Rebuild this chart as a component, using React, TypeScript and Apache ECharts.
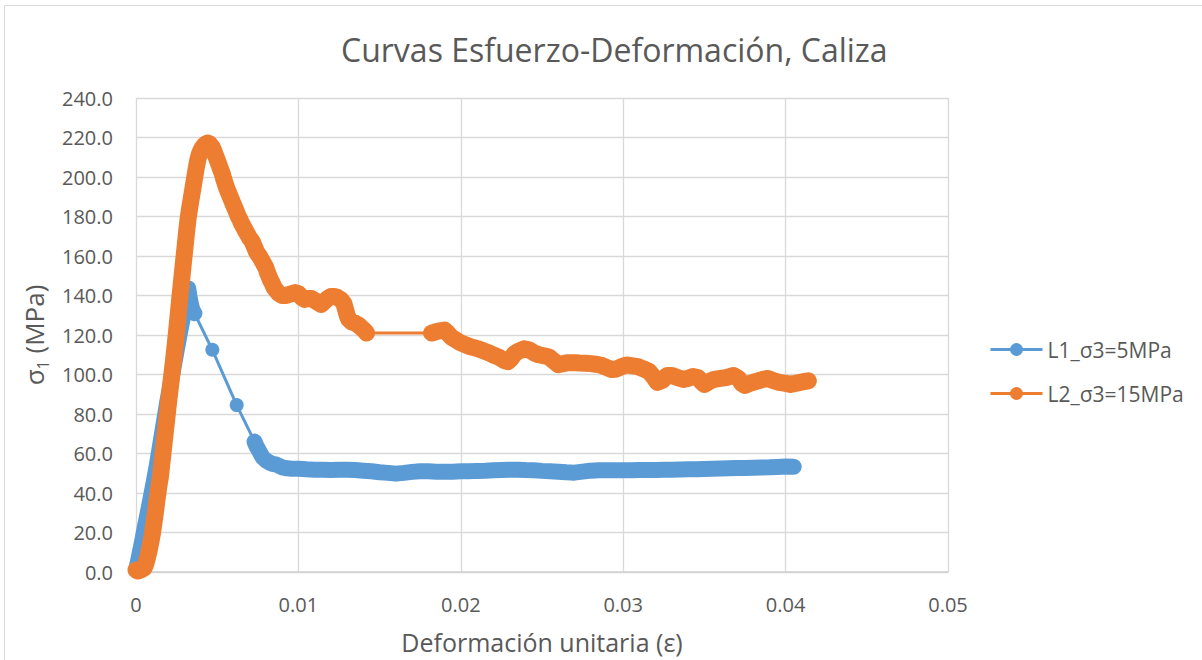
import React, { useEffect, useRef } from "react";
import * as echarts from "echarts";

const TITLE = "Curvas Esfuerzo-Deformación, Caliza";
const X_NAME = "Deformación unitaria (ε)";
const SERIES_NAMES = ["L1_σ3=5MPa", "L2_σ3=15MPa"];
const COLORS = ["#5B9BD5", "#ED7D31"];

// L1 (σ3 = 5 MPa): strain and stress
const epsL1 = [
  0, 0.0001, 0.0002, 0.0003, 0.0004, 0.0005, 0.0007, 0.0009, 0.0011, 0.0013,
  0.0015, 0.0017, 0.0019, 0.0021, 0.0023, 0.0025, 0.0027, 0.0029, 0.0031, 0.00322,
  0.0033, 0.0034, 0.0035, 0.0036, 0.0047, 0.0062, 0.0073, 0.0074, 0.0075, 0.0076,
  0.0077, 0.0078, 0.008, 0.0082, 0.0084, 0.0086, 0.0088, 0.009, 0.0093, 0.0096,
  0.01, 0.0105, 0.011, 0.0115, 0.012, 0.0125, 0.013, 0.0135, 0.014, 0.0145,
  0.015, 0.0155, 0.016, 0.0165, 0.017, 0.0175, 0.018, 0.0185, 0.019, 0.0195,
  0.02, 0.0205, 0.021, 0.0215, 0.022, 0.0225, 0.023, 0.0235, 0.024, 0.0245,
  0.025, 0.0255, 0.026, 0.0265, 0.027, 0.0275, 0.028, 0.0285, 0.029, 0.0295,
  0.03, 0.0305, 0.031, 0.0315, 0.032, 0.0325, 0.033, 0.0335, 0.034, 0.0345,
  0.035, 0.0355, 0.036, 0.0365, 0.037, 0.0375, 0.038, 0.0385, 0.039, 0.0395,
  0.04, 0.0405,
];
const sigL1 = [
  1, 4.5, 8.5, 12.5, 16.5, 21, 29, 37.5, 46, 55,
  65, 75, 85, 94, 103, 112, 121, 129.5, 138.5, 143.5,
  139, 135, 132, 131, 112.5, 84.5, 66, 64, 62.5, 61,
  59.5, 58, 56.5, 55.5, 54.8, 54.5, 53.8, 53, 52.5, 52.3,
  52.3, 52, 51.8, 51.8, 51.7, 51.8, 51.8, 51.6, 51.3, 51,
  50.5, 50.2, 49.8, 50.2, 50.7, 51, 51, 50.8, 50.8, 50.8,
  51, 51, 51.2, 51.3, 51.5, 51.7, 51.8, 51.8, 51.6, 51.5,
  51.2, 51, 50.8, 50.5, 50.3, 50.8, 51.3, 51.5, 51.5, 51.5,
  51.5, 51.5, 51.6, 51.6, 51.7, 51.8, 51.8, 51.9, 52, 52,
  52.2, 52.3, 52.4, 52.5, 52.6, 52.7, 52.8, 52.9, 53, 53.2,
  53.4, 53.3,
];

// L2 (σ3 = 15 MPa): strain and stress
const epsL2 = [
  0, 0.0001, 0.0002, 0.0003, 0.0004, 0.0005, 0.0006, 0.0007, 0.0008, 0.0009,
  0.001, 0.0011, 0.0012, 0.0013, 0.0014, 0.0015, 0.0016, 0.0017, 0.0018, 0.0019,
  0.002, 0.0021, 0.0022, 0.0023, 0.0024, 0.0025, 0.0026, 0.0027, 0.0028, 0.0029,
  0.003, 0.0031, 0.0032, 0.0033, 0.0034, 0.0035, 0.0036, 0.0037, 0.0038, 0.0039,
  0.004, 0.0041, 0.0042, 0.0043, 0.0044, 0.0045, 0.0046, 0.0047, 0.0048, 0.0051,
  0.0052, 0.0053, 0.0054, 0.0055, 0.0056, 0.0057, 0.0058, 0.0059, 0.006, 0.0061,
  0.0062, 0.0063, 0.0064, 0.0065, 0.0066, 0.0067, 0.0068, 0.0069, 0.007, 0.0071,
  0.0072, 0.0073, 0.0074, 0.0075, 0.0076, 0.0077, 0.0078, 0.0079, 0.008, 0.0081,
  0.0082, 0.0083, 0.0084, 0.0085, 0.0086, 0.0087, 0.0088, 0.009, 0.0092, 0.0094,
  0.0096, 0.0098, 0.01, 0.0102, 0.0104, 0.0106, 0.0108, 0.011, 0.0112, 0.0114,
  0.0116, 0.0118, 0.012, 0.0122, 0.0124, 0.0126, 0.0128, 0.0129, 0.013, 0.0131,
  0.0133, 0.0135, 0.0137, 0.0139, 0.0141, 0.0142, 0.0182, 0.0186, 0.019, 0.0192,
  0.0194, 0.0196, 0.0198, 0.02, 0.0203, 0.0206, 0.021, 0.0214, 0.0218, 0.0221,
  0.0224, 0.0227, 0.0229, 0.0231, 0.0233, 0.0236, 0.0239, 0.0242, 0.0245, 0.0248,
  0.0251, 0.0254, 0.0257, 0.026, 0.0263, 0.0266, 0.027, 0.0273, 0.0277, 0.028,
  0.0283, 0.0286, 0.029, 0.0293, 0.0296, 0.0299, 0.0302, 0.0305, 0.0309, 0.0312,
  0.0316, 0.0319, 0.0321, 0.0324, 0.0327, 0.033, 0.0333, 0.0337, 0.034, 0.0343,
  0.0346, 0.0348, 0.035, 0.0353, 0.0356, 0.036, 0.0364, 0.0368, 0.0371, 0.0373,
  0.0375, 0.0378, 0.0382, 0.0386, 0.0389, 0.0392, 0.0396, 0.04, 0.0403, 0.0406,
  0.0409, 0.0412, 0.0414,
];
const sigL2 = [
  1, 0.5, 0.8, 1, 1.5, 2, 4, 7, 10.5, 14.5,
  19, 24.5, 30.5, 37, 43, 48, 55.5, 63, 70.5, 78,
  85.5, 92.5, 99.5, 106.5, 114, 122, 130.5, 139, 147, 155,
  163, 171, 178.5, 184, 189, 194, 199, 204, 208.5, 211.5,
  213.5, 215, 216, 216.8, 217.2, 217, 216, 215, 213, 206.5,
  204, 202, 199, 196.5, 194, 192, 190, 188, 186, 184,
  182, 180, 178.5, 176.5, 175, 173.5, 172, 170.5, 169, 168,
  166.5, 164.5, 162.5, 161, 160, 158.5, 157, 155.5, 154, 151.5,
  149.5, 147.5, 146, 144, 143, 142, 141, 140, 140, 140.5,
  141, 141.5, 141, 139, 138, 138.5, 138.5, 137.5, 136.5, 135.5,
  137, 138.5, 139.5, 139.5, 139, 138, 136, 133, 130, 128,
  126.5, 126, 125, 123.5, 122, 121, 121, 122, 122.5, 121,
  119, 118, 117, 116, 115, 114, 113.2, 112, 110.7, 109.5,
  108.5, 107, 106.5, 108, 110.5, 112, 113, 112.5, 111, 110,
  109.5, 109, 107, 105, 105.5, 106, 106, 105.8, 105.7, 105.5,
  105.2, 104.8, 103.5, 102.5, 102.8, 104, 104.8, 104.5, 104, 103,
  101.5, 98.5, 96, 97, 99.5, 99.5, 98.5, 97.5, 98, 99,
  98.5, 96.5, 95, 96.5, 97.5, 98, 98.5, 99.5, 98, 95.5,
  94.5, 95.5, 96.5, 97.5, 98, 97, 96, 95.5, 95, 95.5,
  96, 96.5, 96.8,
];

const X_MIN = 0;
const X_MAX = 0.05;
const X_STEP = 0.01;
const Y_MIN = 0;
const Y_MAX = 240;
const Y_STEP = 20;

const FONT = "'Open Sans', 'Noto Sans', sans-serif";
const TEXT = "#595959";

// Dense runs of measured points (drawn as a continuous thick band in the original)
function denseRuns(eps: number[], sig: number[]) {
  const out: any[] = [];
  for (let i = 0; i < eps.length; i++) {
    if (i > 0) {
      const dx = eps[i] - eps[i - 1];
      const dy = Math.abs(sig[i] - sig[i - 1]);
      if (dx > 0.0007 || dy > 12) out.push([(eps[i] + eps[i - 1]) / 2, "-"]);
    }
    out.push([eps[i], sig[i]]);
  }
  return out;
}

export default function App() {
  const ref = useRef<HTMLDivElement>(null);

  useEffect(() => {
    document.body.style.margin = "0";
    if (!ref.current) return;
    const chart = echarts.init(ref.current, undefined, { renderer: "svg" });
    const l1 = epsL1.map((e, i) => [e, sigL1[i]]);
    const l2 = epsL2.map((e, i) => [e, sigL2[i]]);
    const mkSeries = (name: string, data: any[], color: string, z: number) => ({
      name,
      type: "line",
      data,
      z,
      symbol: "circle",
      symbolSize: 14,
      showAllSymbol: true,
      color,
      itemStyle: { color },
      lineStyle: { color, width: 3 },
      emphasis: { disabled: true },
    });
    const mkBand = (name: string, data: any[], color: string, z: number, w: number) => ({
      name,
      type: "line",
      data,
      z,
      symbol: "none",
      silent: true,
      connectNulls: false,
      lineStyle: { color, width: w, cap: "round", join: "round" },
      emphasis: { disabled: true },
    });
    chart.setOption({
      animation: false,
      backgroundColor: "#ffffff",
      title: {
        text: TITLE,
        left: 336,
        top: 28,
        textStyle: {
          fontFamily: FONT,
          fontSize: 32,
          fontWeight: "normal",
          color: TEXT,
        },
      },
      graphic: [
        {
          type: "rect",
          shape: { x: 4.5, y: 5.5, width: 1300, height: 700 },
          style: { fill: "none", stroke: "#d9d9d9", lineWidth: 1 },
          silent: true,
        },
      ],
      legend: {
        orient: "vertical",
        left: 989,
        top: 339,
        padding: 0,
        itemWidth: 52,
        itemHeight: 16,
        itemGap: 23,
        lineStyle: { width: 3 },
        textStyle: { fontFamily: FONT, fontSize: 21, color: TEXT },
        data: SERIES_NAMES,
      },
      grid: { left: 136, right: 254, top: 98, bottom: 88 },
      xAxis: {
        type: "value",
        min: X_MIN,
        max: X_MAX,
        interval: X_STEP,
        name: X_NAME,
        nameLocation: "middle",
        nameGap: 57,
        nameTextStyle: { fontFamily: FONT, fontSize: 25, color: TEXT },
        axisLine: { show: true, lineStyle: { color: "#d0d0d0", width: 1.5 } },
        axisTick: { show: false },
        axisLabel: {
          margin: 22,
          fontFamily: FONT,
          fontSize: 20,
          color: TEXT,
          formatter: (v: number) => String(Number(v.toFixed(2))),
        },
        splitLine: { show: true, lineStyle: { color: "#d9d9d9", width: 1.3 } },
      },
      yAxis: {
        type: "value",
        min: Y_MIN,
        max: Y_MAX,
        interval: Y_STEP,
        name: "{s|σ}{sub|1}{s| (MPa)}",
        nameLocation: "middle",
        nameGap: 84,
        nameTextStyle: {
          fontFamily: FONT,
          color: TEXT,
          rich: {
            s: { fontFamily: FONT, fontSize: 26, color: TEXT, lineHeight: 34, verticalAlign: "middle" },
            sub: { fontFamily: FONT, fontSize: 16, color: TEXT, lineHeight: 16, verticalAlign: "bottom" },
          },
        },
        axisLine: { show: false },
        axisTick: { show: false },
        axisLabel: {
          margin: 23,
          fontFamily: FONT,
          fontSize: 20,
          color: TEXT,
          formatter: (v: number) => v.toFixed(1),
        },
        splitLine: { show: true, lineStyle: { color: "#d9d9d9", width: 1.3 } },
      },
      series: [
        mkBand("L1 band", denseRuns(epsL1, sigL1), COLORS[0], 2, 16),
        mkSeries(SERIES_NAMES[0], l1, COLORS[0], 3),
        mkBand("L2 band", denseRuns(epsL2, sigL2), COLORS[1], 4, 17),
        mkSeries(SERIES_NAMES[1], l2, COLORS[1], 5),
      ],
    });
    return () => chart.dispose();
  }, []);

  return (
    <div
      ref={ref}
      style={{ position: "absolute", left: 0, top: 0, width: 1202, height: 660 }}
    />
  );
}
